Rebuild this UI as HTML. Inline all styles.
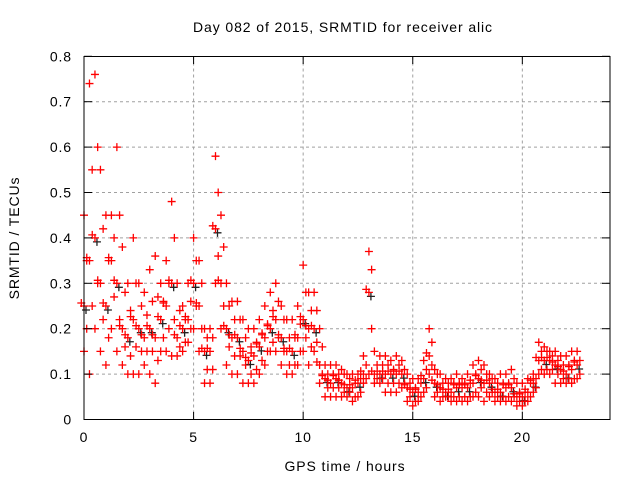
<!DOCTYPE html>
<html><head><meta charset="utf-8"><style>
body{margin:0;background:#fff}
svg text{font-family:"Liberation Sans",sans-serif;font-size:14px;fill:#000;letter-spacing:0.9px}
</style></head><body>
<svg id="chart" width="640" height="480" xmlns="http://www.w3.org/2000/svg">
<rect width="640" height="480" fill="#fff"/>
<g id="grid"></g>
<g id="pts"></g>
<rect x="84" y="56.5" width="526" height="363" fill="none" stroke="#000" stroke-width="1"/>
<g id="ticks"></g>
<text x="343" y="32" text-anchor="middle">Day 082 of 2015, SRMTID for receiver alic</text>
<text x="345" y="471" text-anchor="middle">GPS time / hours</text>
<text transform="translate(19,238) rotate(-90)" text-anchor="middle">SRMTID / TECUs</text>
</svg>
<script>
const xTicks=[0,5,10,15,20];
const yTicks=[0,0.1,0.2,0.3,0.4,0.5,0.6,0.7,0.8];
const times=[0,0.25,0.5,0.75,1,1.25,1.5,1.75,2,2.25,2.5,2.75,3,3.25,3.5,3.75,4,4.25,4.5,4.75,5,5.25,5.5,5.75,6,6.25,6.5,6.75,7,7.25,7.5,7.75,8,8.25,8.5,8.75,9,9.25,9.5,9.75,10,10.25,10.5,10.75,11,11.25,11.5,11.75,12,12.25,12.5,12.75,13,13.25,13.5,13.75,14,14.25,14.5,14.75,15,15.25,15.5,15.75,16,16.25,16.5,16.75,17,17.25,17.5,17.75,18,18.25,18.5,18.75,19,19.25,19.5,19.75,20,20.25,20.5,20.75,21,21.25,21.5,21.75,22,22.25,22.5];
const lowVals=[.15,.1,.2,.15,.12,.2,.15,.12,.1,.1,.1,.12,.1,.08,.15,.15,.14,.14,.15,.17,.2,.15,.08,.08,.3,.2,.12,.1,.1,.08,.08,.08,.1,.12,.15,.15,.12,.1,.1,.12,.15,.12,.15,.08,.05,.05,.05,.05,.05,.04,.05,.08,.1,.08,.08,.06,.06,.06,.07,.04,.03,.04,.06,.1,.05,.04,.05,.04,.04,.04,.04,.05,.05,.04,.05,.04,.04,.04,.04,.03,.03,.04,.06,.1,.1,.1,.08,.08,.08,.08,.09];
const lowerMidVals=[.2,.25,.3,.22,.18,.27,.22,.16,.14,.16,.15,.15,.15,.13,.18,.2,.22,.16,.17,.2,.25,.2,.11,.11,.36,.25,.16,.14,.14,.12,.1,.11,.13,.15,.17,.18,.15,.12,.12,.15,.18,.16,.17,.1,.07,.07,.07,.06,.06,.05,.06,.09,.2,.09,.09,.08,.08,.08,.08,.05,.04,.05,.07,.12,.06,.05,.05,.05,.05,.05,.05,.06,.07,.06,.06,.05,.05,.05,.05,.04,.04,.05,.07,.11,.11,.11,.1,.09,.09,.09,.1];
const midVals=[.25,.35,.4,.3,.25,.35,.3,.2,.18,.22,.2,.18,.2,.18,.22,.25,.3,.18,.2,.22,.3,.25,.15,.15,.42,.3,.2,.18,.18,.15,.13,.14,.16,.18,.2,.22,.18,.15,.15,.18,.22,.2,.2,.12,.09,.08,.09,.08,.07,.07,.08,.1,.28,.1,.1,.1,.1,.1,.1,.07,.06,.06,.09,.14,.08,.07,.06,.06,.07,.07,.07,.08,.09,.08,.08,.06,.06,.07,.07,.05,.05,.06,.08,.13,.13,.13,.12,.11,.1,.11,.12];
const upperMidVals=[.35,.55,.6,.42,.35,.4,.45,.28,.24,.3,.25,.23,.26,.27,.26,.3,.4,.24,.22,.26,.35,.3,.18,.18,.5,.38,.25,.22,.22,.18,.16,.17,.19,.21,.24,.26,.22,.18,.18,.21,.28,.24,.24,.16,.1,.1,.1,.1,.09,.08,.09,.12,.33,.12,.12,.12,.11,.12,.11,.08,.07,.08,.11,.17,.1,.08,.08,.08,.08,.08,.08,.1,.11,.1,.09,.08,.08,.08,.09,.06,.06,.08,.09,.15,.15,.14,.13,.12,.12,.13,.13];
const highVals=[.45,.74,.76,.55,.45,.45,.6,.38,.3,.4,.3,.28,.33,.36,.3,.35,.48,.3,.25,.3,.4,.35,.2,.2,.58,.45,.3,.26,.26,.22,.2,.2,.22,.25,.28,.3,.25,.22,.22,.25,.34,.28,.28,.2,.12,.12,.12,.11,.1,.1,.1,.14,.37,.15,.14,.14,.13,.14,.13,.1,.09,.09,.13,.2,.11,.1,.09,.09,.1,.09,.1,.12,.13,.12,.1,.09,.1,.1,.11,.08,.08,.09,.1,.17,.16,.15,.15,.14,.14,.15,.15];
const X=v=>84+v*(526/24), Y=v=>419.5-v*454;
const NS='http://www.w3.org/2000/svg';
function mk(t,a,p){const e=document.createElementNS(NS,t);for(const k in a)e.setAttribute(k,a[k]);p.appendChild(e);return e;}
const grid=document.getElementById('grid'),ticks=document.getElementById('ticks'),pts=document.getElementById('pts');
xTicks.forEach(v=>{
 if(v>0){const g=mk('line',{x1:X(v),x2:X(v),y1:56.5,y2:419.5,stroke:'#a0a0a0','stroke-dasharray':'3,3'},grid);
 
 }
 mk('line',{x1:X(v),x2:X(v),y1:419.5,y2:412,stroke:'#000'},ticks);
 mk('line',{x1:X(v),x2:X(v),y1:56.5,y2:64,stroke:'#000'},ticks);
 const t=mk('text',{x:X(v),y:442,'text-anchor':'middle'},ticks);t.textContent=v;
 
 
});
yTicks.forEach(v=>{
 if(v>0&&v<0.8){const g=mk('line',{x1:84,x2:610,y1:Y(v),y2:Y(v),stroke:'#a0a0a0','stroke-dasharray':'3,3'},grid);
 
 }
 mk('line',{x1:84,x2:92,y1:Y(v),y2:Y(v),stroke:'#000'},ticks);
 mk('line',{x1:602,x2:610,y1:Y(v),y2:Y(v),stroke:'#000'},ticks);
 const t=mk('text',{x:72,y:Y(v)+5,'text-anchor':'end'},ticks);t.textContent=v;
 
 
});
function cross(x,y,c){const p=mk('path',{d:`M${x-4},${y}h8M${x},${y-4}v8`,stroke:c,'stroke-width':1.3,fill:'none'},pts);
 
 }
times.forEach((t,i)=>{
 const x=X(t);
 if(i%2===0) cross(x+2,Y(midVals[i])+4,'#222');
 cross(x,Y(lowVals[i]),'#f00');
 cross(x+2.7,Y(lowerMidVals[i]),'#f00');
 cross(x,Y(midVals[i]),'#f00');
 cross(x-2.7,Y(midVals[i])-3,'#f00');
 cross(x+2.7,Y(upperMidVals[i]),'#f00');
 cross(x,Y(highVals[i]),'#f00');
});
</script>
</body></html>
